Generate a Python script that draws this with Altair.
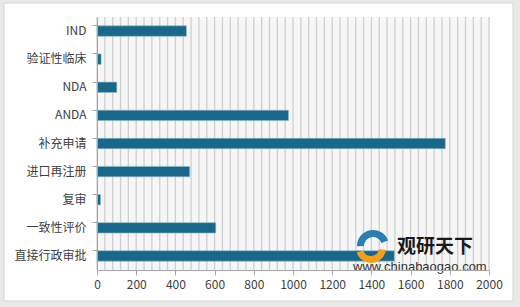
import altair as alt
import pandas as pd

categories = ["IND", "验证性临床", "NDA", "ANDA", "补充申请", "进口再注册", "复审", "一致性评价", "直接行政审批"]
values = [456, 21, 101, 977, 1777, 473, 18, 606, 1517]
x_ticks = [0, 200, 400, 600, 800, 1000, 1200, 1400, 1600, 1800, 2000]
grid_vals = list(range(0, 2001, 40))

W, H = 392, 253
FONT = "Noto Sans CJK SC"

df = pd.DataFrame({"cat": categories, "val": values})
gdf = pd.DataFrame({"g": grid_vals})

xscale = alt.Scale(domain=[0, 2000], nice=False)
xaxis = alt.Axis(values=x_ticks, format="d", title=None, grid=False, labelFont=FONT, labelFontSize=12,
                 labelColor="#404040", domainColor="#a6a6a6", tickColor="#a6a6a6",
                 tickSize=5, labelPadding=4, zindex=1, labelFlush=False)

one = pd.DataFrame({"a": [0]})

frame = alt.Chart(one).mark_rect(fill="white", stroke="#d4d4d4", strokeWidth=1).encode(
    x=alt.value(-93), x2=alt.value(416), y=alt.value(-14), y2=alt.value(284)
)
plotbg = alt.Chart(one).mark_rect(fill="#f6f6f6").encode(
    x=alt.value(0), x2=alt.value(W), y=alt.value(0), y2=alt.value(H)
)
grid = alt.Chart(gdf).mark_rule(color="#cfcfcf", strokeWidth=1.3).encode(
    x=alt.X("g:Q", scale=xscale, axis=xaxis),
    y=alt.value(0), y2=alt.value(H)
)
bars = alt.Chart(df).mark_bar(color="#1b6789", stroke="#8fb8cc", strokeWidth=0.6).encode(
    x=alt.X("val:Q", scale=xscale, axis=xaxis),
    y=alt.Y("cat:N", sort=categories,
            scale=alt.Scale(paddingInner=0.63, paddingOuter=0.315),
            axis=alt.Axis(title=None, grid=False, labelFont=FONT, labelFontSize=12,
                          labelColor="#404040", domainColor="#a6a6a6", tickColor="#a6a6a6",
                          tickSize=5, labelPadding=6, bandPosition=0, zindex=1))
)

logo_blue = alt.Chart(one).mark_arc(color="#2a7fb0", innerRadius=9, outerRadius=16,
                                    theta=4.7, theta2=7.5).encode(
    x=alt.value(276), y=alt.value(229)
)
logo_orange = alt.Chart(one).mark_arc(color="#f0a020", innerRadius=8, outerRadius=15,
                                      theta=1.7, theta2=4.4).encode(
    x=alt.value(274), y=alt.value(231)
)
wm1 = alt.Chart(one).mark_text(text="观研天下", font=FONT, fontSize=19, fontWeight="bold",
                               color="#1a1a1a", align="left", baseline="middle").encode(
    x=alt.value(300), y=alt.value(230)
)
wm2 = alt.Chart(one).mark_text(text="www.chinabaogao.com", font="Liberation Sans", fontSize=13,
                               color="#333333", align="left", baseline="middle").encode(
    x=alt.value(256), y=alt.value(250)
)

chart = alt.layer(frame, plotbg, grid, bars, logo_blue, logo_orange, wm1, wm2).properties(
    width=W, height=H,
    autosize=alt.AutoSizeParams(type="none"),
    padding={"left": 97, "top": 17, "right": 31, "bottom": 37},
    background="#e8e8e8"
).configure_view(stroke=None)

chart.save("out.html", embed_options={"renderer": "svg", "actions": False})
